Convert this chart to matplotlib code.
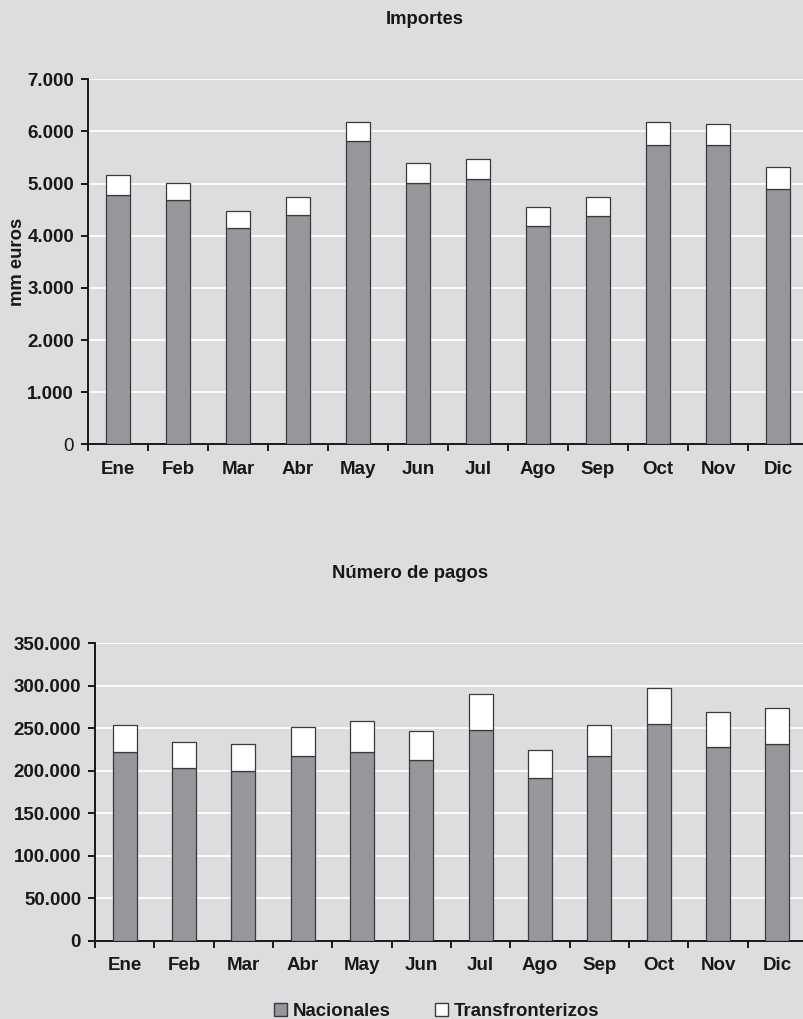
import matplotlib.pyplot as plt
import numpy as np
from matplotlib.patches import Patch
from matplotlib.ticker import FuncFormatter, FixedLocator

plt.rcParams['font.family'] = ['Liberation Sans', 'DejaVu Sans']
plt.rcParams['font.weight'] = 'bold'

meses = ['Ene', 'Feb', 'Mar', 'Abr', 'May', 'Jun', 'Jul', 'Ago', 'Sep', 'Oct', 'Nov', 'Dic']

# Importes (mm euros)
imp_nacionales = [4780, 4685, 4154, 4398, 5817, 5006, 5088, 4187, 4379, 5740, 5740, 4903]
imp_transfront = [379, 332, 314, 351, 371, 395, 390, 359, 358, 435, 409, 415]

# Numero de pagos
pag_nacionales = [222080, 202870, 199340, 217370, 222080, 212300, 247640, 191800, 217370, 254710, 227970, 231500]
pag_transfront = [32160, 30990, 32520, 34520, 36870, 34520, 43150, 32280, 36520, 43150, 40880, 42060]

BG = '#DCDDDF'
GRIS = '#96979B'
EDGE = '#3a3a3a'
TXT = '#1a1718'


def miles(v, pos):
    return f'{int(v):,}'.replace(',', '.')


def dibuja(ax, nac, trans, ymax, paso, ancho):
    x = np.arange(len(meses))
    ax.set_facecolor(BG)
    ax.bar(x, nac, width=ancho, color=GRIS, edgecolor=EDGE, linewidth=0.9, zorder=3)
    ax.bar(x, trans, bottom=nac, width=ancho, color='white', edgecolor=EDGE, linewidth=0.9, zorder=3)
    ax.set_xlim(-0.5, len(meses) - 0.5)
    ax.set_ylim(0, ymax)
    ax.set_yticks(np.arange(0, ymax + 1, paso))
    ax.yaxis.set_major_formatter(FuncFormatter(miles))
    ax.grid(axis='y', color='white', linewidth=1.3, zorder=0)
    ax.set_axisbelow(True)
    for s in ['top', 'right']:
        ax.spines[s].set_visible(False)
    for s in ['left', 'bottom']:
        ax.spines[s].set_color(TXT)
        ax.spines[s].set_linewidth(1.4)
    ax.set_xticks(x)
    ax.set_xticklabels(meses)
    ax.xaxis.set_minor_locator(FixedLocator(np.arange(-0.5, len(meses), 1.0)))
    ax.tick_params(axis='x', which='major', length=0, pad=12, labelsize=13.5, colors=TXT)
    ax.tick_params(axis='x', which='minor', length=5, width=1.4, color=TXT)
    ax.tick_params(axis='y', length=5, width=1.4, pad=5, labelsize=13.5, colors=TXT)


fig = plt.figure(figsize=(8.04, 10.19), dpi=100, facecolor=BG)

ax1 = fig.add_axes([88 / 804, 1 - 444.3 / 1019, 720 / 804, 365 / 1019])
dibuja(ax1, imp_nacionales, imp_transfront, 7000, 1000, 0.4)
ax1.set_ylabel('mm euros', fontsize=13.3, fontweight='bold', color=TXT, labelpad=1)
ax1.get_yticklabels()[0].set_fontweight('normal')
fig.text(425 / 804, 1 - 20 / 1019, 'Importes', ha='center', va='center',
         fontsize=13.3, fontweight='bold', color=TXT)

ax2 = fig.add_axes([95 / 804, 1 - 940.5 / 1019, 712 / 804, 297.2 / 1019])
dibuja(ax2, pag_nacionales, pag_transfront, 350000, 50000, 0.405)
fig.text(410 / 804, 1 - 574 / 1019, 'Número de pagos', ha='center', va='center',
         fontsize=13.3, fontweight='bold', color=TXT)

handles = [Patch(facecolor=GRIS, edgecolor=EDGE, label='Nacionales'),
           Patch(facecolor='white', edgecolor=EDGE, label='Transfronterizos')]
fig.legend(handles=handles, loc='center', bbox_to_anchor=(0.543, 1 - 1011.5 / 1019),
           ncol=2, frameon=False, fontsize=13.4, handlelength=0.7, handleheight=0.7,
           handletextpad=0.3, columnspacing=2.4, labelcolor=TXT)

fig.savefig('out.png', dpi=100, facecolor=BG)
